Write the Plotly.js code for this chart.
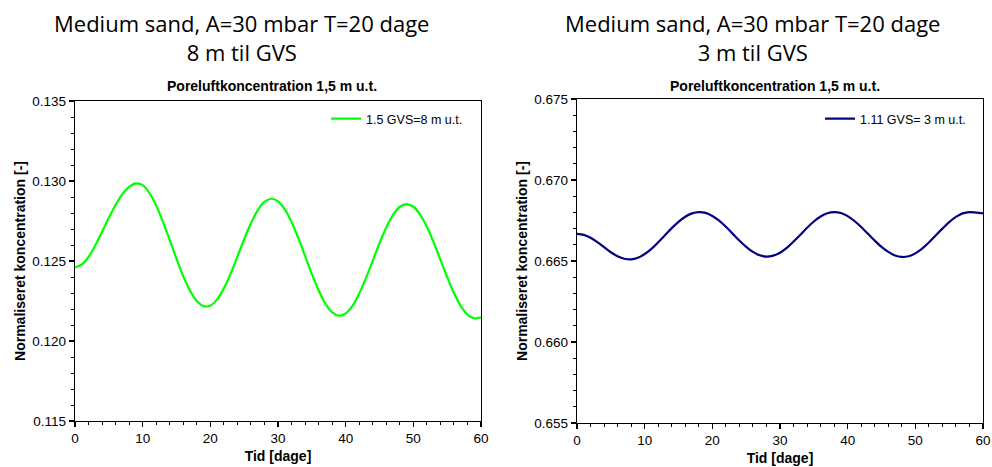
<!DOCTYPE html>
<html>
<head>
<meta charset="utf-8">
<script src="https://cdn.plot.ly/plotly-3.0.1.min.js"></script>
<style>html,body{margin:0;padding:0;background:#fff;}#chart{width:992px;height:467px;}</style>
</head>
<body>
<div id="chart"></div>
<script>
const days = [0,1,2,3,4,5,6,7,8,9,10,11,12,13,14,15,16,17,18,19,20,21,22,23,24,25,26,27,28,29,30,31,32,33,34,35,36,37,38,39,40,41,42,43,44,45,46,47,48,49,50,51,52,53,54,55,56,57,58,59,60];

const conc8m = [0.12460,0.12478,0.12525,0.12598,0.12683,0.12770,0.12850,0.12918,0.12963,0.12985,
  0.12974,0.12925,0.12846,0.12745,0.12631,0.12514,0.12405,0.12314,0.12250,0.12218,
  0.12221,0.12260,0.12329,0.12421,0.12527,0.12636,0.12736,0.12817,0.12869,0.12889,
  0.12873,0.12823,0.12744,0.12644,0.12532,0.12419,0.12317,0.12234,0.12179,0.12158,
  0.12172,0.12219,0.12296,0.12393,0.12501,0.12611,0.12709,0.12788,0.12839,0.12856,
  0.12839,0.12790,0.12714,0.12617,0.12509,0.12400,0.12300,0.12219,0.12164,0.12141,0.12148];

const conc3m = [0.66667,0.66661,0.66643,0.66616,0.66585,0.66554,0.66529,0.66514,0.66510,0.66520,
  0.66543,0.66575,0.66616,0.66659,0.66703,0.66742,0.66773,0.66794,0.66802,0.66797,
  0.66778,0.66749,0.66711,0.66669,0.66626,0.66587,0.66556,0.66535,0.66527,0.66533,
  0.66551,0.66581,0.66620,0.66662,0.66705,0.66744,0.66775,0.66795,0.66802,0.66796,
  0.66777,0.66747,0.66710,0.66668,0.66626,0.66587,0.66556,0.66534,0.66525,0.66529,
  0.66547,0.66576,0.66614,0.66657,0.66700,0.66740,0.66772,0.66794,0.66802,0.66799,0.66794];

const name8m = "1.5 GVS=8 m u.t.";
const name3m = "1.11 GVS= 3 m u.t.";
const mainTitleLeft = "Medium sand, A=30 mbar T=20 dage<br>8 m til GVS";
const mainTitleRight = "Medium sand, A=30 mbar T=20 dage<br>3 m til GVS";
const subTitle = "Poreluftkoncentration 1,5 m u.t.";
const xTitle = "Tid [dage]";
const yTitle = "Normaliseret koncentration [-]";

const traces = [
  {x: days, y: conc8m, type: 'scatter', mode: 'lines', name: name8m,
   line: {color: '#00ff00', width: 2.2, shape: 'spline', smoothing: 1}, xaxis: 'x', yaxis: 'y', legend: 'legend'},
  {x: days, y: conc3m, type: 'scatter', mode: 'lines', name: name3m,
   line: {color: '#000080', width: 2.2, shape: 'spline', smoothing: 1}, xaxis: 'x2', yaxis: 'y2', legend: 'legend2'}
];

const W = 992, H = 467;
const FF = 'Liberation Sans, Arial, sans-serif';
function ax(extra) {
  return Object.assign({
    showgrid: false, zeroline: false, showline: true, linecolor: '#000', linewidth: 1.2,
    mirror: true, ticks: 'outside', ticklen: 5, tickwidth: 1.2, tickcolor: '#000',
    tickfont: {family: FF, size: 13.5, color: '#000'}
  }, extra);
}
const tf = {family: FF, size: 14, color: '#000', weight: 'bold'};
const yf = {family: FF, size: 14, color: '#000', weight: 'bold'};
const minorX = {ticks: 'outside', ticklen: 3, dtick: 2, tickcolor: '#000', tickwidth: 1};
const minorY = {ticks: 'outside', ticklen: 3, dtick: 0.001, tickcolor: '#000', tickwidth: 1};

const layout = {
  width: W, height: H,
  margin: {l: 0, r: 0, t: 0, b: 0},
  paper_bgcolor: '#fff', plot_bgcolor: '#fff',
  showlegend: true,
  xaxis: ax({domain: [75/W, 481/W], range: [0, 60], dtick: 10, anchor: 'y', minor: minorX,
    title: {text: xTitle, font: tf, standoff: 5}}),
  yaxis: ax({domain: [1-421/H, 1-101/H], range: [0.115, 0.135], dtick: 0.005, tickformat: '.3f', anchor: 'x', minor: minorY,
    title: {text: yTitle, font: yf, standoff: 3}}),
  xaxis2: ax({domain: [577/W, 983/W], range: [0, 60], dtick: 10, anchor: 'y2', minor: minorX,
    title: {text: xTitle, font: tf, standoff: 5}}),
  yaxis2: ax({domain: [1-423/H, 1-99/H], range: [0.655, 0.675], dtick: 0.005, tickformat: '.3f', anchor: 'x2', minor: minorY,
    title: {text: yTitle, font: yf, standoff: 3}}),
  legend: {x: 468/W, xanchor: 'right', y: 1-104/H, yanchor: 'top', bgcolor: 'rgba(0,0,0,0)',
    font: {family: FF, size: 12.5, color: '#000'}, itemwidth: 30, tracegroupgap: 0},
  legend2: {x: 971/W, xanchor: 'right', y: 1-104/H, yanchor: 'top', bgcolor: 'rgba(0,0,0,0)',
    font: {family: FF, size: 12.5, color: '#000'}, itemwidth: 30, tracegroupgap: 0},
  annotations: [
    {text: mainTitleLeft, x: 241/W, y: 1-37/H, xref: 'paper', yref: 'paper', xanchor: 'center', yanchor: 'middle',
     showarrow: false, font: {family: 'Open Sans, sans-serif', size: 22, color: '#000'}},
    {text: mainTitleRight, x: 752/W, y: 1-37/H, xref: 'paper', yref: 'paper', xanchor: 'center', yanchor: 'middle',
     showarrow: false, font: {family: 'Open Sans, sans-serif', size: 22, color: '#000'}},
    {text: subTitle, x: 272/W, y: 1-86/H, xref: 'paper', yref: 'paper', xanchor: 'center', yanchor: 'middle',
     showarrow: false, font: {family: FF, size: 14, color: '#000', weight: 'bold'}},
    {text: subTitle, x: 775/W, y: 1-86/H, xref: 'paper', yref: 'paper', xanchor: 'center', yanchor: 'middle',
     showarrow: false, font: {family: FF, size: 14, color: '#000', weight: 'bold'}}
  ]
};

Plotly.newPlot('chart', traces, layout, {staticPlot: true, displayModeBar: false});
</script>
</body>
</html>
